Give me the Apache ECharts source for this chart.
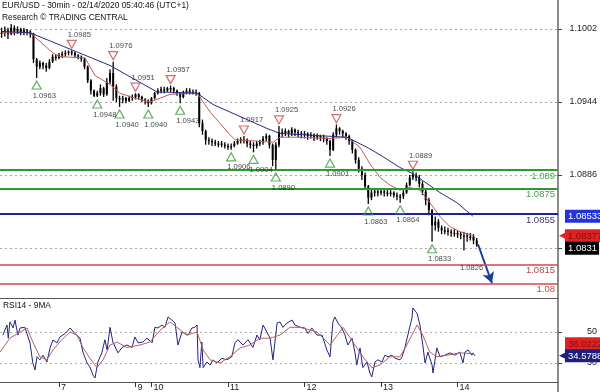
<!DOCTYPE html>
<html><head><meta charset="utf-8">
<script src="https://cdn.jsdelivr.net/npm/echarts@6/dist/echarts.min.js"></script>
<style>html,body{margin:0;padding:0;background:#fff}#c{width:600px;height:392px}</style>
</head><body><div id="c"></div>
<script>
// ---------- DATA ----------
const titleMain = 'EUR/USD - 30min - 02/14/2020 05:40:46 (UTC+1)';
const titleSub = 'Research \u00A9 TRADING CENTRAL';
const rsiTitle = 'RSI14 - 9MA';

// hourly bars, slot i spans [i, i+1] on the time axis (hours from Feb 6 04:30, weekend removed)
const firstOpen = 1.0999;
const closes = [
1.0999,1.1001,1.0998,1.1003,1.1000,1.1002,1.0999,1.1001,1.1000,1.0998,
1.0978,1.0972,1.0975,1.0973,1.0971,1.0976,1.0980,1.0979,1.0981,1.0982,
1.0983,1.0984,1.0983,1.0981,1.0980,1.0978,1.0972,1.0961,1.0953,1.0949,
1.0951,1.0955,1.0950,1.0960,1.0967,1.0956,1.0947,1.0946,1.0947,1.0945,
1.0947,1.0948,1.0950,1.0948,1.0946,1.0945,1.0943,1.0947,1.0951,1.0953,
1.0954,1.0953,1.0955,1.0955,1.0953,1.0951,1.0948,1.0952,1.0953,1.0952,
1.0952,1.0951,1.0927,1.0921,1.0914,1.0913,1.0912,1.0911,1.0911,1.0910,
1.0909,1.0908,1.0909,1.0911,1.0913,1.0914,1.0914,1.0911,1.0910,1.0909,
1.0911,1.0912,1.0915,1.0917,1.0910,1.0898,1.0910,1.0920,1.0919,1.0921,
1.0919,1.0922,1.0920,1.0919,1.0918,1.0919,1.0917,1.0918,1.0916,1.0917,
1.0916,1.0915,1.0913,1.0906,1.0918,1.0923,1.0921,1.0919,1.0917,1.0913,
1.0906,1.0898,1.0891,1.0886,1.0877,1.0868,1.0872,1.0873,1.0872,1.0873,
1.0872,1.0871,1.0872,1.0870,1.0869,1.0869,1.0872,1.0878,1.0884,1.0886,
1.0884,1.0879,1.0873,1.0866,1.0858,1.0846,1.0849,1.0844,1.0842,1.0842,
1.0841,1.0840,1.0840,1.0839,1.0838,1.0838,1.0837,1.0837,1.0834,1.0831];
const highs = [
1.1003,1.1004,1.1003,1.1006,1.1005,1.1004,1.1003,1.1003,1.1002,1.1001,
1.0999,1.0979,1.0977,1.0976,1.0975,1.0978,1.0982,1.0982,1.0983,1.0984,
1.0985,1.0985,1.0985,1.0984,1.0982,1.0981,1.0979,1.0973,1.0962,1.0954,
1.0953,1.0958,1.0956,1.0963,1.0970,1.0976,1.0958,1.0949,1.0949,1.0948,
1.0949,1.0950,1.0951,1.0951,1.0949,1.0947,1.0946,1.0948,1.0952,1.0955,
1.0956,1.0956,1.0956,1.0957,1.0956,1.0954,1.0952,1.0953,1.0955,1.0955,
1.0954,1.0954,1.0952,1.0930,1.0922,1.0916,1.0915,1.0914,1.0913,1.0913,
1.0912,1.0911,1.0911,1.0913,1.0915,1.0916,1.0917,1.0915,1.0913,1.0912,
1.0913,1.0914,1.0917,1.0919,1.0918,1.0911,1.0912,1.0925,1.0923,1.0923,
1.0922,1.0924,1.0923,1.0922,1.0921,1.0921,1.0920,1.0920,1.0919,1.0919,
1.0918,1.0918,1.0916,1.0914,1.0920,1.0926,1.0924,1.0922,1.0920,1.0918,
1.0914,1.0907,1.0900,1.0893,1.0888,1.0878,1.0875,1.0875,1.0875,1.0875,
1.0875,1.0874,1.0874,1.0873,1.0872,1.0871,1.0874,1.0880,1.0886,1.0889,
1.0888,1.0886,1.0881,1.0875,1.0868,1.0859,1.0853,1.0851,1.0846,1.0845,
1.0844,1.0843,1.0843,1.0842,1.0841,1.0841,1.0840,1.0840,1.0839,1.0836];
const lows = [
1.0995,1.0996,1.0994,1.0997,1.0997,1.0998,1.0997,1.0997,1.0997,1.0995,
1.0975,1.0963,1.0970,1.0970,1.0968,1.0970,1.0975,1.0977,1.0978,1.0979,
1.0980,1.0981,1.0981,1.0979,1.0978,1.0976,1.0970,1.0959,1.0950,1.0948,
1.0948,1.0949,1.0948,1.0949,1.0958,1.0945,1.0944,1.0940,1.0943,1.0943,
1.0944,1.0945,1.0946,1.0946,1.0944,1.0942,1.0940,1.0942,1.0946,1.0950,
1.0951,1.0951,1.0952,1.0952,1.0951,1.0949,1.0943,1.0947,1.0950,1.0950,
1.0950,1.0949,1.0924,1.0918,1.0910,1.0910,1.0909,1.0909,1.0908,1.0908,
1.0907,1.0906,1.0906,1.0908,1.0910,1.0911,1.0911,1.0908,1.0907,1.0904,
1.0907,1.0909,1.0910,1.0913,1.0907,1.0893,1.0890,1.0908,1.0916,1.0917,
1.0916,1.0917,1.0917,1.0916,1.0915,1.0915,1.0914,1.0915,1.0913,1.0914,
1.0913,1.0912,1.0910,1.0901,1.0905,1.0916,1.0918,1.0916,1.0914,1.0910,
1.0903,1.0895,1.0888,1.0882,1.0874,1.0863,1.0866,1.0869,1.0869,1.0870,
1.0869,1.0869,1.0869,1.0868,1.0866,1.0864,1.0867,1.0871,1.0877,1.0882,
1.0881,1.0876,1.0870,1.0862,1.0854,1.0833,1.0842,1.0841,1.0839,1.0839,
1.0838,1.0837,1.0837,1.0836,1.0835,1.0826,1.0833,1.0834,1.0831,1.0829];

// moving averages on price, [time, price]
const fastMA = [[0.6,1.0999],[9.4,1.0999],[16.6,1.0983],[18.8,1.0980],[26.7,1.0979],[29.8,1.0965],
[34.5,1.0958],[37.6,1.0951],[42.3,1.0947],[47,1.0944],[50.2,1.0947],[53.3,1.0950],[59.6,1.0951],
[61.8,1.0951],[65.9,1.0936],[69,1.0927],[72.1,1.0918],[73.7,1.0914],[85.6,1.0912],[87.8,1.0916],
[93.1,1.0916],[103.5,1.0915],[108.8,1.0916],[112.9,1.0908],[116,1.0895],[119.2,1.0884],
[122.3,1.0878],[125.4,1.0874],[128.6,1.0876],[131.7,1.0874],[134.8,1.0864],[138,1.0853],
[141.1,1.0845],[144.2,1.0841],[148.6,1.08377]];
const slowMA = [[0.6,1.1000],[9.4,1.0999],[34.5,1.0973],[49.2,1.0952],[61.8,1.0951],[66.8,1.0942],
[77.5,1.0930],[83.7,1.0923],[87.8,1.0919],[108.8,1.0916],[115.1,1.0908],[119.2,1.0902],
[125.4,1.0892],[129.5,1.0887],[138,1.0872],[143.3,1.0864],[148.3,1.08533]];

// swing points [time, price]
const swingLows = [[11.5,1.0963],[30.5,1.0948],[37.5,1.0940],[46.5,1.0940],[56.5,1.0943],[72.5,1.0906],
[79.5,1.0904],[86.5,1.0890],[103.5,1.0901],[115.5,1.0863],[125.5,1.0864],[135.5,1.0833]];
const pendingLow = [145.5,1.0826];
const swingHighs = [[22.5,1.0985],[35.5,1.0976],[42.5,1.0951],[53.5,1.0957],[76.5,1.0917],
[87.5,1.0925],[105.5,1.0926],[129.5,1.0889]];

// key levels
const levels = [1.0890,1.0875,1.0855,1.0815,1.0800];
const forecastFrom = [149.9,1.0831];
const forecastTo = [154.3,1.0800];

// last values shown on the right
const lastSlowMA = 1.08533, lastFastMA = 1.08377, lastClose = 1.0831;
const lastRsi = 34.5788, lastRsiMA = 36.0222;

// RSI14 and its 9MA, [time, value]
const rsi = [[0.9,48],[2.2,54.5],[2.6,46],[3.1,56.5],[4.1,52.6],[4.7,57.7],[5.6,48],[6.3,52.6],[7.8,53],
[9.4,43],[10.3,30],[11,25.5],[11.6,34],[12.5,32],[13.5,35],[14.7,30.6],[15.7,39.7],[16.6,44.8],[17.9,43],
[18.8,46.8],[20.4,49],[22,52.6],[23.5,49],[25.1,46],[26,37],[27.3,30],[28.2,27.4],[29.2,22],[29.8,20.3],
[30.7,30.6],[32,37],[32.9,45],[33.6,38.4],[34.5,53],[35.4,43.5],[37,36.5],[38.3,40],[39.8,41.6],[41.4,40],
[42.3,46.8],[43.3,43],[44.8,43.5],[46.1,46],[47.7,43],[48.6,53],[49.5,52.6],[50.8,54.5],[51.7,53],[52.7,59.7],
[53.9,57.7],[54.9,55.8],[55.8,41.6],[57.1,50],[58,49],[59,48],[60.2,52.6],[61.1,53],[61.8,54.5],[62.1,32],
[62.7,27],[63.3,43.5],[63.7,27],[64.9,30.6],[65.9,28.7],[66.8,32],[68,30],[69.6,33],[71.2,32],[72.7,34],
[73.7,43],[74.6,45],[76.2,41.6],[77.8,45],[79.3,40],[80.6,48],[81.5,45],[82.5,54.5],[83.7,50],[84.7,46],
[85.6,32],[86.9,55.8],[87.8,56.5],[88.7,53],[90,55.8],[91.6,57.7],[92.5,54.5],[94.1,53],[95.6,52.6],[96.6,49],
[97.8,52.6],[99.4,48],[101,48],[102.5,38.4],[103.5,34],[104.4,56.5],[105,59.7],[106,55.8],[107.2,52.6],
[108.2,48],[109.1,41.6],[110.4,46],[111.3,37],[111.9,28.7],[112.9,39.7],[113.8,27],[115.1,30.6],[116,23.5],
[116.6,21],[117.6,30.6],[118.5,32],[119.8,30.6],[120.7,35],[121.7,34],[122.9,35],[123.9,33],[125.4,32],
[126.1,34],[127,40],[127.9,48],[129.2,59],[129.5,65.5],[130.8,62],[131.7,54.5],[132.6,41.6],[133.3,30],
[134.2,37],[135.5,28.7],[135.8,23.5],[137,39.7],[138,34],[139.5,35],[141.1,36.5],[142.7,35],[144.2,37],
[145.2,30],[145.8,37],[146.8,38.4],[148,35],[148.3,36.5],[149,34.58]];
const rsiMA = [[0,37],[3.1,46],[6.3,50],[8.5,52.6],[10.3,43.5],[12.5,34],[14.7,32],[16.6,38.4],[19.4,45],
[22,50],[24.1,48],[26,40],[28.2,33],[30.4,27],[32.3,32],[34.5,41.6],[36.7,43.5],[39.8,40],[43.9,41.6],
[47,43.5],[50.2,51],[53.3,56.5],[55.5,53],[58.6,48],[61.8,50],[63.7,38.4],[65.9,32],[69,30],[72.1,34],
[75.3,39.7],[78.4,41.6],[81.5,46],[84.7,46],[87.8,48],[90.9,53],[94.1,53],[99.4,50],[103.5,41.6],
[107.6,53],[110.7,43.5],[113.8,34],[116.6,27],[119.2,28.7],[122.3,34],[125.4,34],[127.6,41.6],
[130.8,54.5],[132.6,48],[134.8,37],[137,34],[140.2,35],[144.2,36.5],[148.3,36.02]];

// axes
const priceMin = 1.07883, priceMax = 1.1025;
const priceTicks = [1.1002,1.0944,1.0886,1.0828];
const priceTickLabels = [1.1002,1.0944,1.0886];
const rsiMin = 17.7, rsiMax = 71.3;
const rsiTicks = [50,30];
const timeMax = 175;
const dayTicks = [18.5,42.5,47.5,71.5,95.5,119.5,143.5];
const dayLabels = ['7','9','10','11','12','13','14'];

// ---------- CHART ----------
const FONT = '"Liberation Sans",Arial,sans-serif';
const bars = closes.map((c,i)=>[i+0.5, i ? closes[i-1] : firstOpen, c, lows[i], highs[i]]);

const chart = echarts.init(document.getElementById('c'), null, {width:600, height:392});

const levelStyle = [
  {line:'#2e9a2e', w:2, txt:'#4a9e4a'},
  {line:'#2e9a2e', w:2, txt:'#4a9e4a'},
  {line:'#1f1fa6', w:2, txt:'#3a3a6a'},
  {line:'#d04848', w:1.5, txt:'#b04848'},
  {line:'#d04848', w:1.5, txt:'#c04848'}];

const HIDDEN = {color:'rgba(255,255,255,0)', width:0.5, type:'solid', opacity:1};
const boxLabel = (txt, bg, fg, arrow, dy) => ({
  show:true, position:'end', distance: arrow ? 1 : 7, offset:[0, dy || 0], opacity:1,
  formatter: arrow ? '{a|\u25C0}{b|' + txt + '}' : '{b|' + txt + '}',
  rich:{
    a:{color:bg, fontSize:9, padding:[0,-1,0,0], fontFamily:'DejaVu Sans'},
    b:{backgroundColor:bg, color:fg, fontSize:9.5, padding:[2,2,1,3], fontFamily:FONT}
  }
});

const option = {
  animation:false,
  backgroundColor:'#ffffff',
  textStyle:{fontFamily:FONT},
  title:[
    {text:titleMain, subtext:titleSub, left:2, top:1, padding:0, itemGap:2,
     textStyle:{fontSize:8.4, fontWeight:'normal', color:'#111', fontFamily:FONT, lineHeight:10},
     subtextStyle:{fontSize:8.4, color:'#111', fontFamily:FONT, lineHeight:10}},
    {text:rsiTitle, left:3, top:301, padding:0,
     textStyle:{fontSize:8.4, fontWeight:'normal', color:'#111', fontFamily:FONT, lineHeight:10}}
  ],
  grid:[
    {left:0, width:558, top:0, height:298, containLabel:false, outerBoundsMode:'none'},
    {left:0, width:558, top:299, height:83, containLabel:false, outerBoundsMode:'none'}
  ],
  xAxis:[
    {type:'value', gridIndex:0, min:0, max:timeMax, splitLine:{show:false},
     axisLine:{show:true, onZero:false, lineStyle:{color:'#555', width:1}},
     axisTick:{show:false}, axisLabel:{show:false}},
    {type:'value', gridIndex:1, min:0, max:timeMax, splitLine:{show:false},
     axisLine:{show:true, onZero:false, lineStyle:{color:'#555', width:1}},
     axisTick:{show:true, customValues:dayTicks, length:5, lineStyle:{color:'#333'}},
     axisLabel:{show:true, customValues:dayTicks, align:'left', margin:1, padding:[0,0,0,2],
       fontSize:9, color:'#222',
       formatter:v=>{const k=dayTicks.findIndex(t=>Math.abs(t-v)<1e-6);return k<0?'':dayLabels[k];}}}
  ],
  yAxis:[
    {type:'value', gridIndex:0, position:'right', min:priceMin, max:priceMax, scale:true,
     splitLine:{show:false},
     axisLine:{show:true, onZero:false, lineStyle:{color:'#8c8c8c', width:2}},
     axisTick:{show:true, customValues:priceTicks, length:4, lineStyle:{color:'#444'}},
     axisLabel:{show:true, customValues:priceTickLabels, align:'right', margin:39, fontSize:9, color:'#222',
       formatter:v=>v.toFixed(4)}},
    {type:'value', gridIndex:1, position:'right', min:rsiMin, max:rsiMax,
     splitLine:{show:false},
     axisLine:{show:true, onZero:false, lineStyle:{color:'#8c8c8c', width:2}},
     axisTick:{show:true, customValues:rsiTicks, length:4, lineStyle:{color:'#444'}},
     axisLabel:{show:true, customValues:rsiTicks, align:'right', margin:39, fontSize:9, color:'#222'}}
  ],
  series:[
    {type:'custom', name:'price', xAxisIndex:0, yAxisIndex:0, z:2, data:bars,
     encode:{x:0, y:[1,2,3,4]},
     renderItem:(params, api)=>{
       const x = api.value(0);
       const o = api.coord([x, api.value(1)]);
       const c = api.coord([x, api.value(2)]);
       const l = api.coord([x, api.value(3)]);
       const h = api.coord([x, api.value(4)]);
       const w = api.size([1,0])[0]*0.62;
       return {type:'group', children:[
         {type:'line', shape:{x1:l[0], y1:l[1], x2:h[0], y2:h[1]}, style:{stroke:'#000', lineWidth:1.3}},
         {type:'rect', shape:{x:o[0]-w/2, y:Math.min(o[1],c[1]), width:w, height:Math.max(1.3, Math.abs(o[1]-c[1]))},
          style:{fill:'#000'}}
       ]};
     }},
    {type:'line', name:'fastMA', xAxisIndex:0, yAxisIndex:0, z:3, data:fastMA, showSymbol:false, symbol:'none',
     lineStyle:{color:'#c05a5a', width:1}, silent:true,
     markLine:{silent:true, precision:6, symbol:['none','none'], z:4,
       label:{show:true, position:'insideEndBottom', distance:[3,1], fontSize:9.5, fontFamily:FONT},
       data: levels.map((v,i)=>({yAxis:v,
         lineStyle:{color:levelStyle[i].line, width:levelStyle[i].w, type:'solid'},
         label:{formatter:String(v), color:levelStyle[i].txt}}))}},
    {type:'line', name:'slowMA', xAxisIndex:0, yAxisIndex:0, z:3, data:slowMA, showSymbol:false, symbol:'none',
     lineStyle:{color:'#2a2a88', width:1}, silent:true,
     markLine:{silent:true, precision:6, symbol:['none','none'], z:1, label:{show:false},
       data: priceTicks.map(v=>({yAxis:v, lineStyle:{color:'#a8a8a8', width:1, type:[2,3]}})).concat([
         [{coord:forecastFrom, symbol:'none', lineStyle:{color:'#1c3c9c', width:2, type:'solid'}},
          {coord:forecastTo, symbol:'arrow', symbolSize:[9,11]}]
       ])}},
    {type:'scatter', name:'lows', xAxisIndex:0, yAxisIndex:0, z:5, clip:false,
     data: swingLows.concat([{value:pendingLow, itemStyle:{borderColor:'rgba(0,0,0,0)'}}]),
     symbol:'triangle', symbolSize:[9,8], symbolOffset:[0,7],
     itemStyle:{color:'rgba(0,0,0,0)', borderColor:'#3f9a3f', borderWidth:1.2},
     label:{show:true, position:'bottom', distance:2, align:'left', offset:[-4,0], fontSize:7.6,
       fontFamily:FONT, color:'#111', formatter:p=>p.value[1].toFixed(4)}},
    {type:'scatter', name:'highs', xAxisIndex:0, yAxisIndex:0, z:5, clip:false, data:swingHighs,
     symbol:'path://M0,0L10,0L5,9Z', symbolSize:[9,8], symbolOffset:[0,-6],
     itemStyle:{color:'rgba(0,0,0,0)', borderColor:'#c84a4a', borderWidth:1.2},
     label:{show:true, position:'top', distance:1, align:'left', offset:[-4,0], fontSize:7.6,
       fontFamily:FONT, color:'#111', formatter:p=>p.value[1].toFixed(4)}},
    {type:'line', name:'lastValues', xAxisIndex:0, yAxisIndex:0, z:6, data:[], clip:false, silent:true,
     markLine:{silent:true, precision:6, symbol:['none','none'], z:6, lineStyle:HIDDEN,
       data:[
         {yAxis:lastSlowMA, lineStyle:HIDDEN, label:boxLabel(String(lastSlowMA), '#2233dd', '#ffffff', false)},
         {yAxis:lastFastMA, lineStyle:HIDDEN, label:boxLabel(String(lastFastMA), '#e02222', '#7a1212', true)},
         {yAxis:lastClose, lineStyle:HIDDEN, label:boxLabel(String(lastClose), '#000000', '#ffffff', false, 4)}
       ]}},
    {type:'line', name:'rsi', xAxisIndex:1, yAxisIndex:1, z:3, data:rsi, showSymbol:false, symbol:'none',
     lineStyle:{color:'#24247c', width:1}, silent:true,
     markLine:{silent:true, precision:6, symbol:['none','none'], z:1, label:{show:false},
       data: rsiTicks.map(v=>({yAxis:v, lineStyle:{color:'#b0b0b0', width:1, type:[2,3]}}))}},
    {type:'line', name:'rsiMA', xAxisIndex:1, yAxisIndex:1, z:4, data:rsiMA, showSymbol:false, symbol:'none',
     lineStyle:{color:'#b86060', width:1}, silent:true},
    {type:'line', name:'rsiLast', xAxisIndex:1, yAxisIndex:1, z:6, data:[], clip:false, silent:true,
     markLine:{silent:true, precision:6, symbol:['none','none'], z:6, lineStyle:HIDDEN,
       data:[
         {yAxis:lastRsiMA, lineStyle:HIDDEN, label:boxLabel(String(lastRsiMA), '#e02222', '#7a1212', false, -10)},
         {yAxis:lastRsi, lineStyle:HIDDEN, label:boxLabel(String(lastRsi), '#1e1e80', '#ffffff', true)}
       ]}}
  ],
  graphic:[
    {type:'line', shape:{x1:558, y1:0, x2:558, y2:392}, style:{stroke:'#8c8c8c', lineWidth:2}, silent:true, z:0}
  ]
};
chart.setOption(option);
</script>
</body></html>
